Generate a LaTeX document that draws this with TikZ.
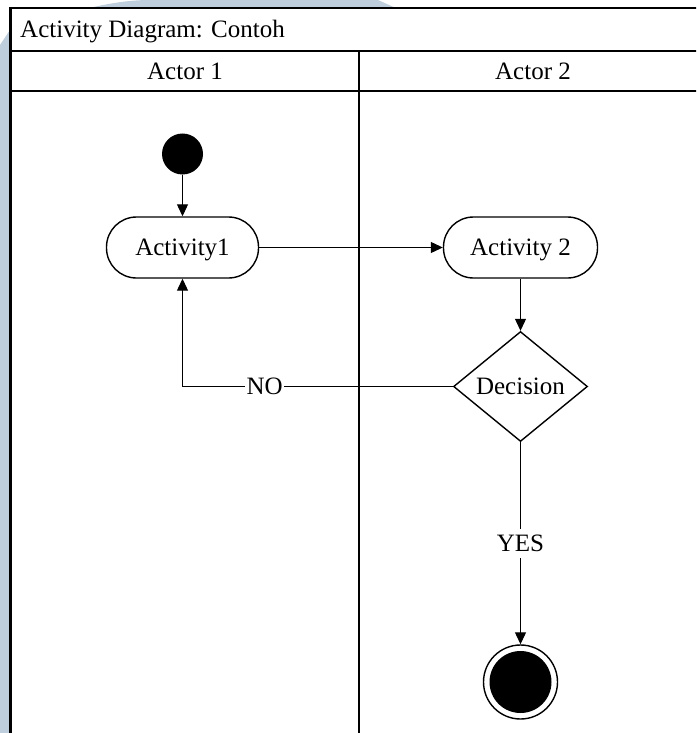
\documentclass[tikz,border=0pt]{standalone}
\usepackage{fontspec}
\setmainfont{Liberation Serif}
\usetikzlibrary{arrows.meta,shapes.geometric}
\definecolor{wmblue}{RGB}{191,206,220}
\tikzset{
  lbl/.style={font=\fontsize{25}{30}\selectfont, inner sep=0pt},
  lane/.style={line width=2pt},
  actbox/.style={lbl, draw, line width=1.4pt, rectangle, rounded corners=30pt,
    minimum width=152pt, minimum height=61pt, text depth=0pt, fill=white},
  decbox/.style={lbl, draw, diamond, line width=1.4pt, shape aspect=1.22,
    minimum width=134pt, minimum height=110pt, fill=white},
  flow/.style={line width=1.1pt, -{Triangle[length=12pt,width=11pt]}},
  plain/.style={line width=1.1pt},
  guard/.style={lbl, fill=white, inner sep=1.5pt},
}
\begin{document}
\begin{tikzpicture}[x=1pt,y=-1pt]
\useasboundingbox (0,0) rectangle (696,733);
\clip (0,0) rectangle (696,733);

% faint background marks
\fill[wmblue] (0,45) -- (10,30) -- (10,733) -- (0,733) -- cycle;
\fill[wmblue] (85,9) .. controls (110,3) and (130,0) .. (150,0) -- (378,0) -- (398,9) -- cycle;

% frame with title row, lane headers and lane divider
\draw[line width=2.5pt] (10.5,740) -- (10.5,8) -- (710,8);
\draw[lane] (10.5,51) -- (710,51);
\draw[lane] (10.5,91) -- (710,91);
\draw[lane] (359,51) -- (359,740);

\node[lbl, anchor=base west] (title) at (20,37.5) {Activity Diagram: Contoh};
\node[lbl, anchor=base] (actorA) at (185,80) {Actor 1};
\node[lbl, anchor=base] (actorB) at (533,80) {Actor 2};

% activity flow
\node[circle, fill=black, minimum size=41pt, inner sep=0pt] (init) at (182.5,154) {};
\node[actbox] (act1) at (182.5,247.5) {Activity1};
\node[actbox, minimum width=154pt] (act2) at (520.5,247.5) {Activity 2};
\node[decbox] (dec) at (520.5,386.5) {Decision};
\node[circle, draw, line width=1.4pt, minimum size=74pt, inner sep=0pt] (final) at (520.5,682) {};
\node[circle, fill=black, minimum size=62pt, inner sep=0pt] (finaldot) at (final.center) {};

\coordinate (bend) at (act1.south |- dec.west);

\draw[flow] (init) -- (act1);
\draw[flow] (act1) -- (act2);
\draw[flow] (act2) -- (dec);
\draw[plain] (dec.west) -- (bend) node[guard, pos=0.696] (no) {NO};
\draw[flow] (bend) -- (act1.south);
\draw[flow] (dec.south) -- (final.north) node[guard, pos=0.5, inner ysep=6pt] (yes) {YES};
\end{tikzpicture}
\end{document}
